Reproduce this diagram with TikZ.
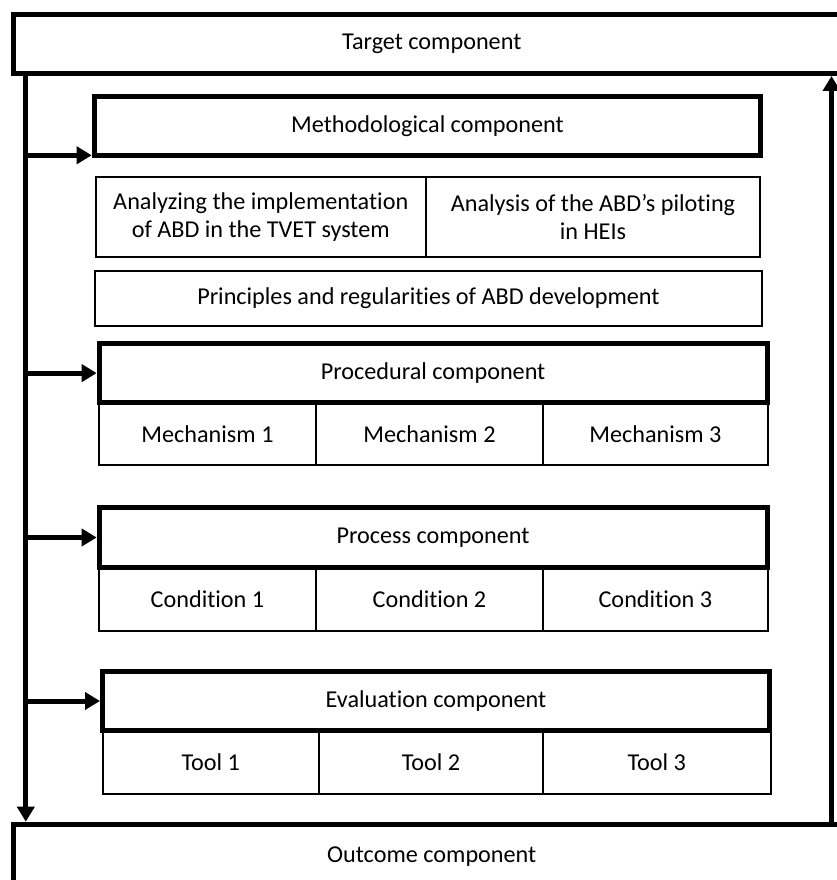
\documentclass[tikz,border=0pt]{standalone}
\usepackage{fontspec}
\setmainfont{Carlito}[Ligatures=NoCommon]
\usetikzlibrary{arrows.meta}

\begin{document}
\begin{tikzpicture}[x=1pt,y=-1pt,
	thickbox/.style={draw,line width=5pt,fill=white,inner sep=0pt,font=\fontsize{24.2pt}{28.5pt}\selectfont},
	cell/.style={draw,line width=2pt,inner sep=0pt,align=center,font=\fontsize{24.2pt}{28.5pt}\selectfont},
	arr/.style={line width=5pt,-{Triangle[length=15pt,width=17pt]}}]
	\useasboundingbox (0,0) rectangle (837,880);
	\clip (0,0) rectangle (837,880);
	% outer boxes
	\node[thickbox,minimum width=836.5,minimum height=59] (target) at (431.75,44) {Target component};
	\node[thickbox,minimum width=836.5,minimum height=65.6] (outcome) at (431.75,857) {Outcome component};
	% analysis and principles
	\node[cell,minimum width=330.5,minimum height=80.3] (anl1) at (260.75,217.15) {Analyzing the implementation\\of ABD in the TVET system};
	\node[cell,minimum width=334,minimum height=80.3] (anl2) at (593,217.15) {Analysis of the ABD’s piloting\\in HEIs};
	\node[cell,minimum width=667.8,minimum height=55] (princ) at (428.4,298.2) {Principles and regularities of ABD development};
	% rows of cells
	\foreach \i/\x/\w in {1/207.5/217,2/429.5/227,3/655.35/224.7}
		\node[cell,minimum width=\w,minimum height=62.5] (mech\i) at (\x,433.75) {Mechanism \i};
	\foreach \i/\x/\w in {1/207.5/217,2/429.5/227,3/655.35/224.7}
		\node[cell,minimum width=\w,minimum height=63.5] (cond\i) at (\x,599.25) {Condition \i};
	\foreach \i/\x/\w in {1/210.75/216.5,2/431/224,3/656.75/227.5}
		\node[cell,minimum width=\w,minimum height=63.5] (tool\i) at (\x,762.25) {Tool \i};
	% components
	\node[thickbox,minimum width=666.6,minimum height=59.1] (meth) at (427.5,126.25) {Methodological component};
	\node[thickbox,minimum width=667.8,minimum height=58.8] (proc) at (433.1,373.1) {Procedural component};
	\node[thickbox,minimum width=667.8,minimum height=60] (process) at (433.1,537.5) {Process component};
	\node[thickbox,minimum width=667,minimum height=59] (eval) at (436,701) {Evaluation component};
	% connectors
	\coordinate (ltop) at (25.8,76);
	\coordinate (rbot) at (831.5,824);
	\coordinate (mtip) at ([yshift=3pt]meth.south west);
	\draw[arr] (ltop) -- (ltop |- outcome.north);
	\draw[arr] (rbot) -- (rbot |- target.south);
	\draw[arr] (ltop |- mtip) -- (mtip);
	\foreach \n in {proc,process,eval}
		\draw[arr] (ltop |- \n.west) -- (\n.west);
\end{tikzpicture}
\end{document}
